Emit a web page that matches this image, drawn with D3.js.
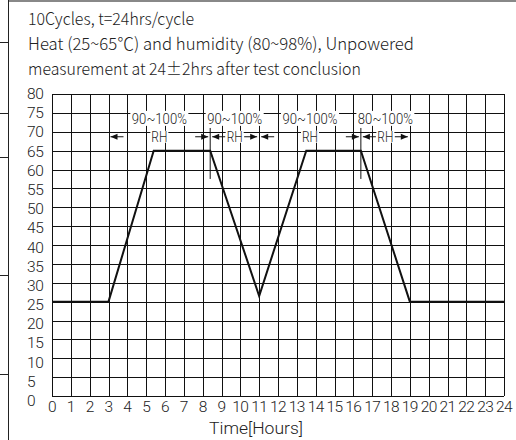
<!DOCTYPE html>
<html>
<head>
<meta charset="utf-8">
<script src="https://cdn.jsdelivr.net/npm/d3@7"></script>
<style>
  body { margin: 0; background: #fff; }
  text { font-family: "Noto Sans CJK KR", "Noto Sans", sans-serif; fill: #222; }
  .ylab, .xlab, .xtitle, .ann text { font-family: Roboto, "Noto Sans", sans-serif; }
</style>
</head>
<body>
<svg class="plot"></svg>
<script>
// Data
const hours = [0, 3, 5.4, 8.4, 11, 13.5, 16.4, 19, 24]
const temps = [25, 25, 65, 65, 26.5, 65, 65, 25, 25]
const xTicks = d3.range(0, 25, 1)
const yTicks = d3.range(0, 85, 5)
const rhStarts = [3, 8.4, 11, 16.4]
const rhEnds = [8.4, 11, 16.4, 19]
const rhLabels = ["90~100%", "90~100%", "90~100%", "80~100%"]
const markerHours = [8.4, 16.4]
const titleLines = [
  "10Cycles, t=24hrs/cycle",
  "Heat (25~65\u2103) and humidity (80~98%), Unpowered",
  "measurement at 24\u00b12hrs after test conclusion"
]
const xLabel = "Time[Hours]"

const W = 516, H = 440
const svg = d3.select(".plot").attr("width", W).attr("height", H)

// page frame around the chart
svg.append("line").attr("x1", 8).attr("x2", W).attr("y1", 1).attr("y2", 1)
  .attr("stroke", "#888").attr("stroke-width", 2)
svg.append("line").attr("x1", 8.5).attr("x2", 8.5).attr("y1", 0).attr("y2", H)
  .attr("stroke", "#222")
svg.selectAll(".frameTick").data([42, 113, 157, 275, 374]).join("line")
  .attr("class", "frameTick")
  .attr("x1", 0).attr("x2", 8).attr("y1", d => d + 0.5).attr("y2", d => d + 0.5)
  .attr("stroke", "#222")

// title
const titleWidths = [166, 386, 333]
const titleBase = [25, 50, 75]
svg.selectAll(".title").data(titleLines).join("text")
  .attr("class", "title")
  .attr("x", 28).attr("y", (d, i) => titleBase[i])
  .attr("font-size", 17).attr("font-weight", 300)
  .attr("textLength", (d, i) => titleWidths[i]).attr("lengthAdjust", "spacingAndGlyphs")
  .text(d => d)

// scales
const xScale = d3.scaleLinear().domain([0, 24]).range([52, 504])
const yScale = d3.scaleLinear().domain([0, 80]).range([396, 94])
const yLabScale = d3.scaleLinear().domain([0, 80]).range([401, 94])
const px = v => Math.round(v) + 0.5

// grid
const grid = svg.append("g")
grid.selectAll(".vgrid").data(xTicks).join("line")
  .attr("class", "vgrid")
  .attr("x1", d => px(xScale(d))).attr("x2", d => px(xScale(d)))
  .attr("y1", yScale(80)).attr("y2", yScale(0))
  .attr("stroke", "#111")
grid.selectAll(".hgrid").data(yTicks).join("line")
  .attr("class", "hgrid")
  .attr("x1", xScale(0)).attr("x2", xScale(24))
  .attr("y1", d => px(yScale(d))).attr("y2", d => px(yScale(d)))
  .attr("stroke", "#111")

// tick labels
svg.selectAll(".ylab").data(yTicks).join("text")
  .attr("class", "ylab")
  .attr("x", 27).attr("y", d => yLabScale(d))
  .attr("dominant-baseline", "central")
  .attr("font-size", 15.5).attr("font-weight", 300).attr("letter-spacing", -0.4)
  .text(d => d)
svg.selectAll(".xlab").data(xTicks).join("text")
  .attr("class", "xlab")
  .attr("x", d => xScale(d)).attr("y", 407)
  .attr("text-anchor", "middle").attr("dominant-baseline", "central")
  .attr("font-size", 15.5).attr("font-weight", 300).attr("letter-spacing", -0.6)
  .text(d => d)
svg.append("text")
  .attr("class", "xtitle")
  .attr("x", 256).attr("y", 428)
  .attr("text-anchor", "middle").attr("dominant-baseline", "central")
  .attr("font-size", 16.5).attr("font-weight", 300)
  .attr("textLength", 94).attr("lengthAdjust", "spacingAndGlyphs")
  .text(xLabel)

// humidity annotations
const rh = rhStarts.map((s, i) => ({ s: s, e: rhEnds[i], label: rhLabels[i] }))
const ann = svg.append("g").attr("class", "ann")
const pctY = yScale(75) + 6
const rhY = yScale(70) + 5
rh.forEach(d => {
  const mid = xScale((d.s + d.e) / 2)
  ann.append("rect").attr("x", mid - 29).attr("y", pctY - 8).attr("width", 58).attr("height", 15).attr("fill", "#fff")
  ann.append("text").attr("x", mid).attr("y", pctY)
    .attr("text-anchor", "middle").attr("dominant-baseline", "central")
    .attr("font-size", 15).attr("font-weight", 300)
    .attr("textLength", 55).attr("lengthAdjust", "spacingAndGlyphs")
    .text(d.label)
  ann.append("rect").attr("x", mid - 9).attr("y", rhY - 6).attr("width", 18).attr("height", 12).attr("fill", "#fff")
  ann.append("text").attr("x", mid).attr("y", rhY)
    .attr("text-anchor", "middle").attr("dominant-baseline", "central")
    .attr("font-size", 14).attr("font-weight", 300)
    .attr("textLength", 16).attr("lengthAdjust", "spacingAndGlyphs")
    .text("RH")
  // arrows pointing out to both ends
  const xl = xScale(d.s) + 2, xr = xScale(d.e) - 2
  ann.append("line").attr("x1", xl).attr("x2", xl + 13).attr("y1", rhY).attr("y2", rhY).attr("stroke", "#111")
  ann.append("path").attr("d", `M${xl},${rhY}L${xl + 7},${rhY - 3}L${xl + 7},${rhY + 3}Z`).attr("fill", "#111")
  ann.append("line").attr("x1", xr).attr("x2", xr - 13).attr("y1", rhY).attr("y2", rhY).attr("stroke", "#111")
  ann.append("path").attr("d", `M${xr},${rhY}L${xr - 7},${rhY - 3}L${xr - 7},${rhY + 3}Z`).attr("fill", "#111")
})

svg.selectAll(".marker").data(markerHours).join("line")
  .attr("class", "marker")
  .attr("x1", d => xScale(d)).attr("x2", d => xScale(d))
  .attr("y1", yScale(71)).attr("y2", yScale(57.5))
  .attr("stroke", "#111")

// temperature profile
const pts = hours.map((h, i) => [h, temps[i]])
svg.append("path")
  .attr("d", d3.line().x(d => xScale(d[0])).y(d => yScale(d[1]))(pts))
  .attr("fill", "none").attr("stroke", "#111").attr("stroke-width", 2)
</script>
</body>
</html>
